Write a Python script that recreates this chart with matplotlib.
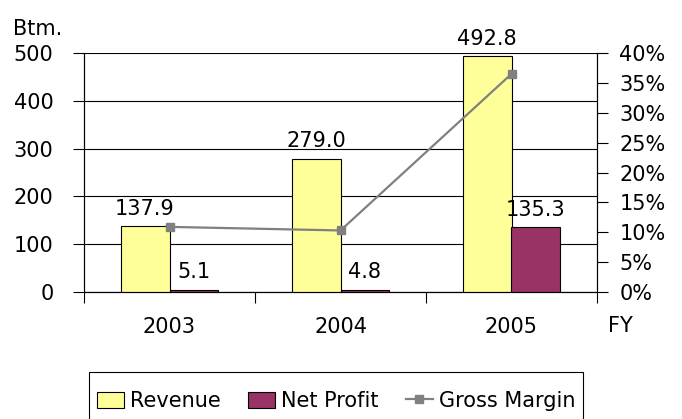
import matplotlib
matplotlib.use("Agg")
import matplotlib.pyplot as plt
import numpy as np
from matplotlib.ticker import FixedLocator
from matplotlib.patches import Rectangle

years = ["2003", "2004", "2005"]
revenue = [137.9, 279.0, 492.8]
net_profit = [5.1, 4.8, 135.3]
gross_margin = [10.9, 10.3, 36.5]  # percent

plt.rcParams['font.family'] = ['DejaVu Sans']
FS = 15

fig = plt.figure(figsize=(6.82, 4.19), dpi=100)
ax = fig.add_axes([84/682, 1-292/419, (597-84)/682, (292-53)/419])
x = np.arange(len(years))
w = 0.286

b1 = ax.bar(x - w/2, revenue, w, color='#FFFF99', edgecolor='black', linewidth=0.8, label='Revenue', zorder=3)
b2 = ax.bar(x + w/2, net_profit, w, color='#993366', edgecolor='black', linewidth=0.8, label='Net Profit', zorder=3)
for xi, v in zip(x, revenue):
    ax.text(xi - w/2, v + 15, f"{v:.1f}", ha='center', va='bottom', fontsize=FS)
for xi, v in zip(x, net_profit):
    ax.text(xi + w/2, v + 16, f"{v:.1f}", ha='center', va='bottom', fontsize=FS)

ax.set_xlim(-0.5, 2.5)
ax.set_ylim(0, 500)
ax.set_yticks([0, 100, 200, 300, 400, 500])
ax.yaxis.grid(True, color='black', linewidth=0.8, zorder=0)
ax.set_axisbelow(True)
ax.set_xticks(x)
ax.set_xticklabels(years, fontsize=FS)
ax.xaxis.set_minor_locator(FixedLocator([-0.5, 0.5, 1.5, 2.5]))
ax.tick_params(axis='x', which='major', length=0, pad=18)
ax.tick_params(axis='x', which='minor', length=8, direction='out', width=0.8)
ax.tick_params(axis='y', labelsize=FS, length=8, width=0.8, pad=14)
ax.spines['top'].set_visible(False)
for s in ['left', 'right', 'bottom']:
    ax.spines[s].set_linewidth(0.8)

ax2 = ax.twinx()
line, = ax2.plot(x, gross_margin, color='#808080', linewidth=1.6, marker='s', markersize=6,
                 label='Gross Margin', zorder=4)
ax2.set_ylim(0, 40)
ax2.set_yticks(range(0, 45, 5))
ax2.set_yticklabels([f"{t}%" for t in range(0, 45, 5)])
ax2.tick_params(axis='y', labelsize=FS, length=8, width=0.8, pad=8)
ax2.spines['top'].set_visible(False)
ax2.spines['right'].set_linewidth(0.8)

fig.text(13/682, 1-29/419, "Btm.", fontsize=FS, ha='left', va='center')
fig.text(608/682, 1-326/419, "FY", fontsize=FS, ha='left', va='center')

leg = fig.legend(handles=[b1, b2, line], loc='center', bbox_to_anchor=(336/682, 1-401/419),
                 ncol=3, frameon=False, fontsize=FS,
                 handlelength=1.3, handleheight=0.8, handletextpad=0.3, columnspacing=1.3,
                 borderpad=0, borderaxespad=0)
fig.patches.append(Rectangle((89/682, -0.02), (583-89)/682, (419-372)/419 + 0.02,
                             transform=fig.transFigure, fill=False, edgecolor='black',
                             linewidth=0.8))

fig.savefig("out.png", dpi=100)
